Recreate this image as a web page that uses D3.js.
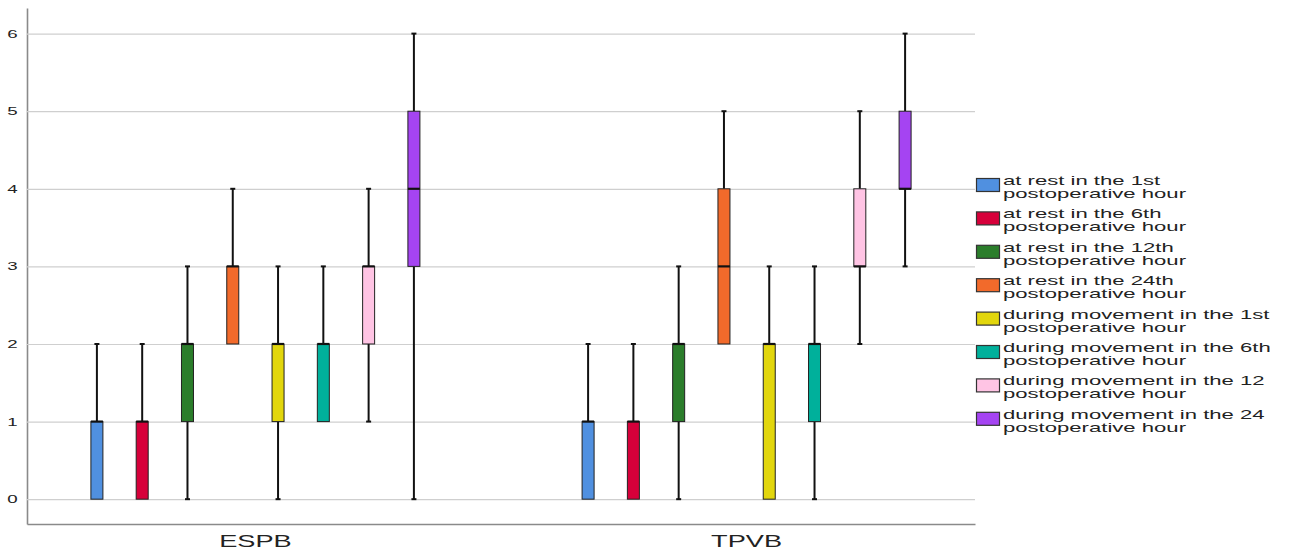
<!DOCTYPE html>
<meta charset="utf-8">
<style>
body { margin: 0; background: #fff; }
.grid line { stroke: #cfcfcf; stroke-width: 1.2px; }
.grid path { stroke: #8a8a8a; stroke-width: 1.6px; }
.xaxis path { stroke: #8a8a8a; stroke-width: 1.6px; }
.lbl { font-family: "Liberation Sans", Arial, sans-serif; fill: #222; }
</style>
<body>
<script src="https://d3js.org/d3.v7.min.js"></script>
<script>

// groups and series
var groups = ["ESPB", "TPVB"];
var series = [
  "at rest in the 1st|postoperative hour",
  "at rest in the 6th|postoperative hour",
  "at rest in the 12th|postoperative hour",
  "at rest in the 24th|postoperative hour",
  "during movement in the 1st|postoperative hour",
  "during movement in the 6th|postoperative hour",
  "during movement in the 12|postoperative hour",
  "during movement in the 24|postoperative hour"
];
var colors = ["#5090e0", "#d6003a", "#2b7d2b", "#f26a2b", "#e2d60c", "#00b09b", "#ffc4e4", "#a544f2"];
var yTicks = [0, 1, 2, 3, 4, 5, 6];

// [min, q1, median, q3, max] per series
var espb = [
  [0, 0, 1, 1, 2],
  [0, 0, 1, 1, 2],
  [0, 1, 2, 2, 3],
  [2, 2, 3, 3, 4],
  [0, 1, 2, 2, 3],
  [1, 1, 2, 2, 3],
  [1, 2, 3, 3, 4],
  [0, 3, 4, 5, 6]
];
var tpvb = [
  [0, 0, 1, 1, 2],
  [0, 0, 1, 1, 2],
  [0, 1, 2, 2, 3],
  [2, 2, 3, 4, 5],
  [0, 0, 2, 2, 3],
  [0, 1, 2, 2, 3],
  [2, 3, 3, 4, 5],
  [3, 4, 4, 5, 6]
];
var stats = { ESPB: espb, TPVB: tpvb };

var W = 1289, H = 553;
var margin = {left: 27, right: 975, top: 8, bottom: 524};
var sx = 1.7; // horizontal stretch of the text

var svg = d3.select("body").append("svg")
    .attr("width", W)
    .attr("height", H);

var x0 = d3.scalePoint().domain(groups).range([margin.left, margin.right]).padding(0.465);
var x1 = d3.scalePoint().domain(d3.range(series.length)).range([-158.5, 158.5]);
var y = d3.scaleLinear().domain([-0.32, 6.33]).range([margin.bottom, margin.top]);

// gridlines + y axis line
svg.append("g")
    .attr("class", "grid")
    .attr("transform", "translate(" + margin.left + ",0)")
    .call(d3.axisLeft(y).tickValues(yTicks).tickSize(-(margin.right - margin.left)).tickFormat("").tickSizeOuter(0));

// x axis line
svg.append("g")
    .attr("class", "xaxis")
    .attr("transform", "translate(0," + margin.bottom + ")")
    .call(d3.axisBottom(x0).tickSize(0).tickFormat("").tickSizeOuter(0));

function stretchText(g, x, yy, txt, size, anchor) {
  return g.append("text")
      .attr("class", "lbl")
      .attr("transform", "translate(" + x + "," + yy + ") scale(" + sx + ",1)")
      .attr("text-anchor", anchor)
      .style("font-size", size + "px")
      .text(txt);
}

// y tick labels
yTicks.forEach(function(t) {
  stretchText(svg, 12.5, y(t) + 4, t, 11, "middle");
});

// x labels
groups.forEach(function(gname) {
  stretchText(svg, x0(gname), 547, gname, 16, "middle");
});

// boxplots
var bw = 12, capW = 5;
groups.forEach(function(gname) {
  stats[gname].forEach(function(d, i) {
    var cx = x0(gname) + x1(i);
    var g = svg.append("g");
    // whiskers
    if (d[0] < d[1]) {
      g.append("line").attr("x1", cx).attr("x2", cx).attr("y1", y(d[0])).attr("y2", y(d[1]))
          .attr("stroke", "#111").attr("stroke-width", 2);
      g.append("line").attr("x1", cx - capW / 2).attr("x2", cx + capW / 2).attr("y1", y(d[0])).attr("y2", y(d[0]))
          .attr("stroke", "#111").attr("stroke-width", 2);
    }
    if (d[4] > d[3]) {
      g.append("line").attr("x1", cx).attr("x2", cx).attr("y1", y(d[4])).attr("y2", y(d[3]))
          .attr("stroke", "#111").attr("stroke-width", 2);
      g.append("line").attr("x1", cx - capW / 2).attr("x2", cx + capW / 2).attr("y1", y(d[4])).attr("y2", y(d[4]))
          .attr("stroke", "#111").attr("stroke-width", 2);
    }
    // box
    g.append("rect")
        .attr("x", cx - bw / 2)
        .attr("y", y(d[3]))
        .attr("width", bw)
        .attr("height", y(d[1]) - y(d[3]))
        .attr("fill", colors[i])
        .attr("stroke", "#222")
        .attr("stroke-width", 1);
    // median
    g.append("line")
        .attr("x1", cx - bw / 2).attr("x2", cx + bw / 2)
        .attr("y1", y(d[2])).attr("y2", y(d[2]))
        .attr("stroke", "#111").attr("stroke-width", 2.2);
  });
});

// legend
var lg = svg.append("g").attr("transform", "translate(976,178)");
series.forEach(function(s, i) {
  var row = lg.append("g").attr("transform", "translate(0," + (i * 33.4) + ")");
  row.append("rect")
      .attr("x", 0.5).attr("y", 0.5)
      .attr("width", 23).attr("height", 13)
      .attr("fill", colors[i])
      .attr("stroke", "#333")
      .attr("stroke-width", 1.2);
  var parts = s.split("|");
  stretchText(row, 27, 7, parts[0], 13, "start");
  stretchText(row, 27, 20, parts[1], 13, "start");
});

</script>
</body>
